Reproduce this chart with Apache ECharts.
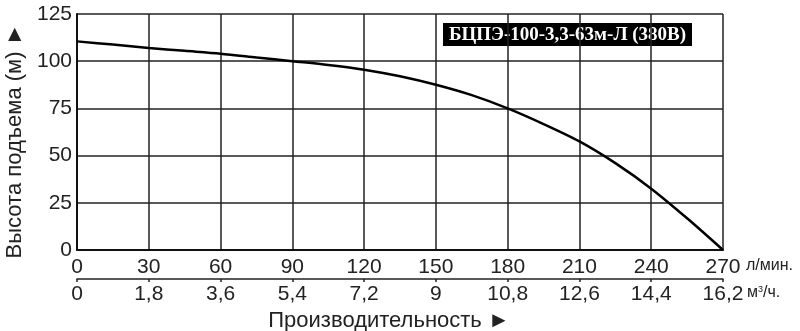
<!DOCTYPE html>
<html><head><meta charset="utf-8">
<script src="https://cdn.jsdelivr.net/npm/echarts@6/dist/echarts.min.js"></script>
<style>html,body{margin:0;padding:0;background:#fff}#c{width:800px;height:331px}</style>
</head><body><div id="c"></div>
<script>
const flowLpm = [0, 15, 30, 45, 60, 75, 90, 105, 120, 135, 150, 165, 180, 195, 210, 225, 240, 255, 270];
const head    = [110.5, 108.8, 107, 105.5, 104, 102, 100, 98, 95.5, 92, 87.5, 82, 75, 66.7, 57.5, 46, 32.5, 16.8, 0];
const lpmTicks = ['0','30','60','90','120','150','180','210','240','270'];
const m3hTicks = ['0','1,8','3,6','5,4','7,2','9','10,8','12,6','14,4','16,2'];
const headTicks = ['0','25','50','75','100','125'];
const modelName = 'БЦПЭ-100-3,3-63м-Л (380В)';

const chart = echarts.init(document.getElementById('c'));
const F = '"Liberation Sans", Arial, sans-serif';
chart.setOption({
  animation: false,
  grid: {left: 77, right: 77, top: 14, bottom: 81, containLabel: false, outerBoundsMode: 'none'},
  xAxis: [{
    type: 'value', min: 0, max: 270, interval: 30,
    axisLine: {show: true, lineStyle: {color: '#111', width: 2}},
    axisTick: {show: false},
    splitLine: {show: true, lineStyle: {color: '#222', width: 1.5}},
    axisLabel: {color: '#222', fontFamily: F, fontSize: 21, margin: 7,
      formatter: v => lpmTicks[Math.round(v / 30)]}
  }, {
    type: 'value', min: 0, max: 270, interval: 30, position: 'bottom', offset: 29,
    axisLine: {show: true, onZero: false, lineStyle: {color: '#222', width: 1.5}},
    axisTick: {show: true, inside: false, length: 3, lineStyle: {color: '#222', width: 1.5}},
    splitLine: {show: false},
    axisLabel: {color: '#222', fontFamily: F, fontSize: 21, margin: 5,
      formatter: v => m3hTicks[Math.round(v / 30)]},
    name: 'Производительность ►', nameLocation: 'middle', nameGap: 24,
    nameTextStyle: {color: '#222', fontFamily: F, fontSize: 22, padding: [0, 22, 0, 0]}
  }],
  yAxis: {
    type: 'value', min: 0, max: 125, interval: 25,
    axisLine: {show: true, lineStyle: {color: '#111', width: 2}},
    axisTick: {show: false},
    splitLine: {show: true, lineStyle: {color: '#222', width: 1.5}},
    axisLabel: {color: '#222', fontFamily: F, fontSize: 21, margin: 5,
      formatter: v => headTicks[Math.round(v / 25)]},
    name: 'Высота подъема (м) ►', nameLocation: 'middle', nameRotate: 90, nameGap: 50,
    nameTextStyle: {color: '#222', fontFamily: F, fontSize: 22, padding: [0, 18, 0, 0]}
  },
  series: [{
    type: 'line', xAxisIndex: 0, smooth: 0.3, symbol: 'none',
    lineStyle: {color: '#000', width: 2.5},
    data: flowLpm.map((q, i) => [q, head[i]])
  }],
  graphic: [
    {type: 'text', left: 746, top: 258, style: {text: 'л/мин.', fill: '#222', font: '16px ' + F}},
    {type: 'text', left: 747, top: 285, style: {rich: {a: {fontSize: 16, fontFamily: F, fill: '#222'}, s: {fontSize: 9, fontFamily: F, fill: '#222', verticalAlign: 'top'}}, text: '{a|м}{s|3}{a|/ч.}', fill: '#222'}},
    {type: 'rect', shape: {x: 443, y: 23, width: 249, height: 23}, style: {fill: '#000'}},
    {type: 'text', x: 567.5, y: 35, style: {text: modelName, fill: '#fff', font: 'bold 19px "Liberation Serif", "Times New Roman", serif', align: 'center', verticalAlign: 'middle'}}
  ]
});
</script></body></html>
